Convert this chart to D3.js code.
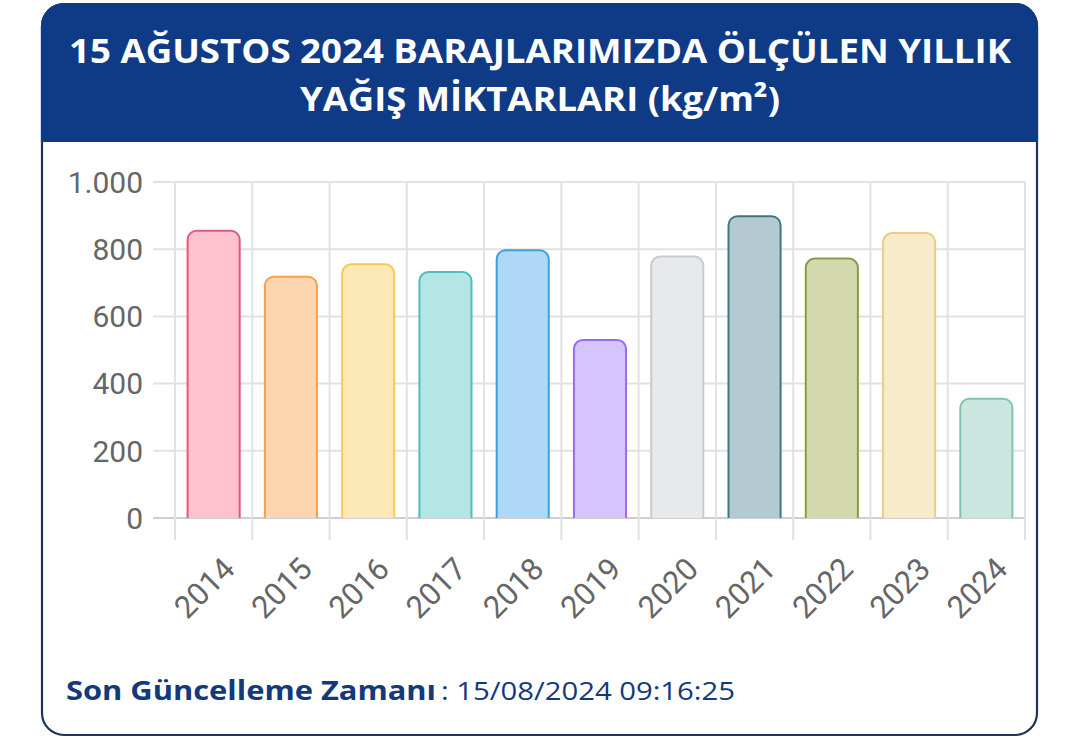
<!DOCTYPE html>
<html><head><meta charset="utf-8">
<script src="https://cdn.jsdelivr.net/npm/d3@7/dist/d3.min.js"></script>
<style>
html,body{margin:0;padding:0;background:#fff;}
svg{display:block;}
</style></head>
<body>
<svg id="chart" width="1080" height="754"></svg>
<script>
const titleLines = ["15 AĞUSTOS 2024 BARAJLARIMIZDA ÖLÇÜLEN YILLIK", "YAĞIŞ MİKTARLARI (kg/m²)"];
const years = ["2014","2015","2016","2017","2018","2019","2020","2021","2022","2023","2024"];
const rainfall = [855, 718, 755, 732, 797, 530, 778, 898, 772, 848, 355];
const fillColors = ["#ffc0cf","#fdd6b0","#fde8b8","#b5e5e5","#aed8f5","#d5c4ff","#e8e9eb","#b3cbd0","#d4d9b0","#f8eacb","#cbe6df"];
const strokeColors = ["#e05a7e","#f0a24e","#f5c95a","#4bbfbf","#3ea0dc","#9a6af0","#c9cbcf","#3f7780","#8d9a43","#ebcd86","#80c4ae"];
const yTicks = [0, 200, 400, 600, 800, 1000];
const footerLabel = "Son Güncelleme Zamanı";
const footerValue = ": 15/08/2024 09:16:25";

const svg = d3.select("#chart");
const trLocale = d3.formatLocale({decimal: ",", thousands: ".", grouping: [3], currency: ["₺", ""]});
const fmt = trLocale.format(",d");

// Card
const cx0 = 42, cy0 = 4, cx1 = 1037, cy1 = 735, rad = 22, headH = 137;
svg.append("rect").attr("x", cx0).attr("y", cy0).attr("width", cx1 - cx0).attr("height", cy1 - cy0)
  .attr("rx", rad).attr("fill", "#fff").attr("stroke", "#1e3558").attr("stroke-width", 2.2);
const hp = d3.path();
hp.moveTo(cx0, cy0 + headH);
hp.lineTo(cx0, cy0 + rad);
hp.arcTo(cx0, cy0, cx0 + rad, cy0, rad);
hp.lineTo(cx1 - rad, cy0);
hp.arcTo(cx1, cy0, cx1, cy0 + rad, rad);
hp.lineTo(cx1, cy0 + headH);
hp.closePath();
svg.append("path").attr("d", hp.toString()).attr("fill", "#0f3b86").attr("stroke", "#0f3b86").attr("stroke-width", 2.2);

// Title
const titleFont = "'Open Sans', 'Noto Sans', sans-serif";
svg.append("text").attr("x", 540).attr("y", 63).attr("text-anchor", "middle")
  .attr("font-family", titleFont).attr("font-weight", 700).attr("font-size", 34)
  .attr("fill", "#fff").attr("textLength", 942).attr("lengthAdjust", "spacingAndGlyphs").text(titleLines[0]);
svg.append("text").attr("x", 540).attr("y", 111).attr("text-anchor", "middle")
  .attr("font-family", titleFont).attr("font-weight", 700).attr("font-size", 34)
  .attr("fill", "#fff").attr("textLength", 480).attr("lengthAdjust", "spacingAndGlyphs").text(titleLines[1]);

// Scales
const x = d3.scaleBand().domain(years).range([175, 1025]).padding(0);
const y = d3.scaleLinear().domain([0, 1000]).range([518, 182]);
const barW = x.bandwidth() * 0.7;
const axisFont = "Roboto, 'Noto Sans', sans-serif";

// Grid
svg.append("g").selectAll("line").data(yTicks).join("line")
  .attr("x1", 153).attr("x2", 1025)
  .attr("y1", d => y(d)).attr("y2", d => y(d))
  .attr("stroke", d => d === 0 ? "#cfcfcf" : "#e2e2e2").attr("stroke-width", 2);
const edges = years.map(d => x(d)).concat([x(years[years.length - 1]) + x.bandwidth()]);
svg.append("g").selectAll("line").data(edges).join("line")
  .attr("x1", d => d).attr("x2", d => d)
  .attr("y1", y(1000)).attr("y2", y(0) + 22)
  .attr("stroke", "#e2e2e2").attr("stroke-width", 2);

// Y labels
svg.append("g").selectAll("text").data(yTicks).join("text")
  .attr("x", 143).attr("y", d => y(d)).attr("dy", "0.36em")
  .attr("text-anchor", "end").attr("font-family", axisFont).attr("font-size", 30)
  .attr("fill", "#666").text(d => fmt(d));

// Bars
function barPath(x0, w, yTop, yBot, r) {
  const p = d3.path();
  p.moveTo(x0, yBot);
  p.lineTo(x0, yTop + r);
  p.arcTo(x0, yTop, x0 + r, yTop, r);
  p.lineTo(x0 + w - r, yTop);
  p.arcTo(x0 + w, yTop, x0 + w, yTop + r, r);
  p.lineTo(x0 + w, yBot);
  return p.toString();
}
svg.append("g").selectAll("path").data(years).join("path")
  .attr("d", (d, i) => barPath(x(d) + (x.bandwidth() - barW) / 2 + 1, barW - 2, y(rainfall[i]), y(0), 9))
  .attr("fill", (d, i) => fillColors[i])
  .attr("stroke", (d, i) => strokeColors[i]).attr("stroke-width", 2);

// X labels rotated
svg.append("g").selectAll("text").data(years).join("text")
  .attr("transform", d => `translate(${x(d) + x.bandwidth() / 2 + 15},${563}) rotate(-45)`)
  .attr("text-anchor", "end").attr("dy", "0.36em")
  .attr("font-family", axisFont).attr("font-size", 31).attr("fill", "#666").text(d => d);

// Footer
svg.append("text").attr("x", 66).attr("y", 700)
  .attr("font-family", "'Open Sans', 'Noto Sans', sans-serif").attr("font-size", 26).attr("font-weight", 700)
  .attr("fill", "#13397a").attr("textLength", 370).attr("lengthAdjust", "spacingAndGlyphs").text(footerLabel);
svg.append("text").attr("x", 441).attr("y", 700)
  .attr("font-family", "'Open Sans', 'Noto Sans', sans-serif").attr("font-size", 26).attr("font-weight", 400)
  .attr("fill", "#13397a").attr("textLength", 294).attr("lengthAdjust", "spacingAndGlyphs").text(footerValue);
</script>
</body></html>
